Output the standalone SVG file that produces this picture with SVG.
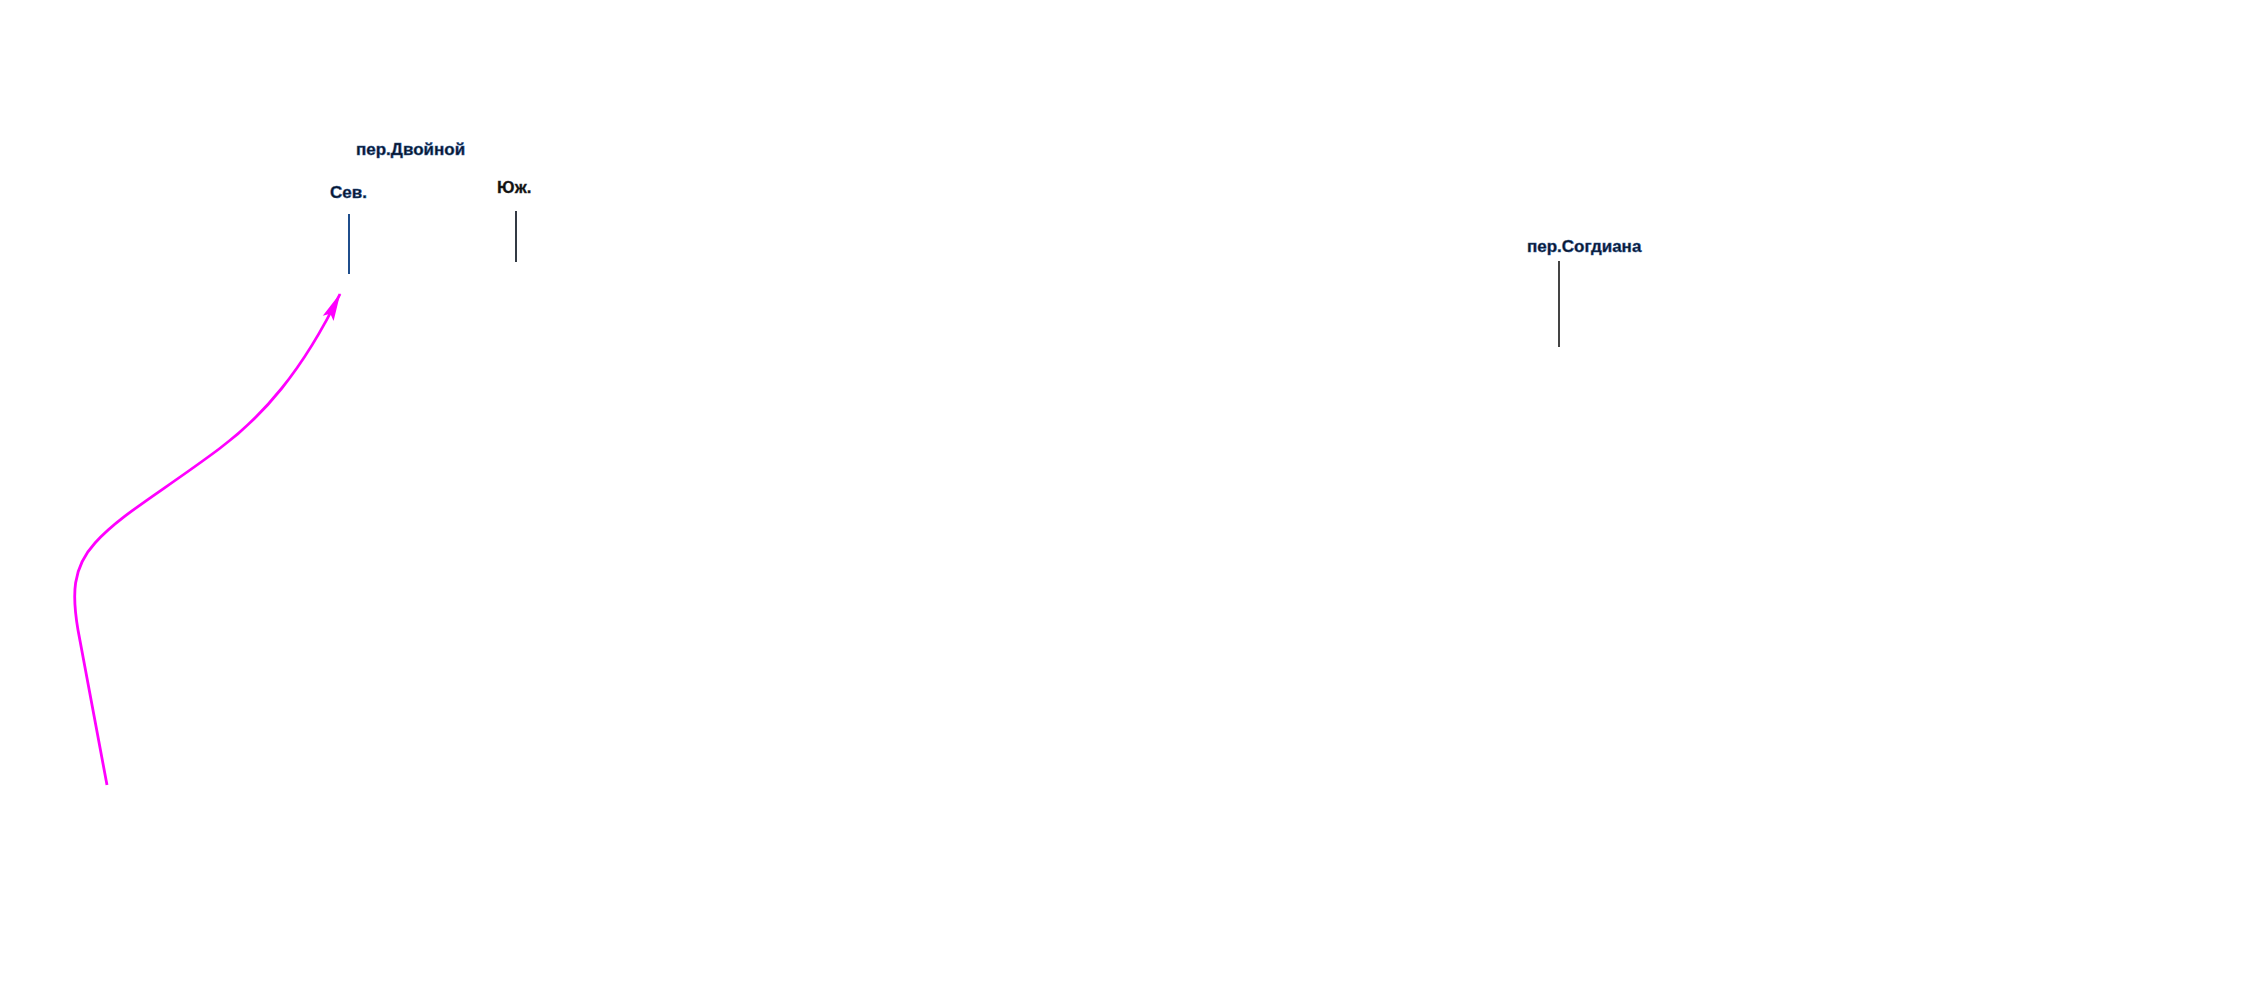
<svg xmlns="http://www.w3.org/2000/svg" width="2252" height="1000" viewBox="0 0 2252 1000">
<style>
.lbl{font-family:"Liberation Sans",Arial,sans-serif;font-weight:bold;font-size:17px;fill:#0a1428;stroke:#2a5a9a;stroke-width:0.5}
.lbl2{font-family:"Liberation Sans",Arial,sans-serif;font-weight:bold;font-size:17px;fill:#111;stroke:#333;stroke-width:0.3}
.tick{stroke-width:2;fill:none}
.conn{stroke:#ff00ff;stroke-width:2.8;fill:none}
</style>
<defs>
<marker id="ah" markerUnits="userSpaceOnUse" markerWidth="28" markerHeight="14" viewBox="0 0 28 14" refX="27" refY="7" orient="auto">
<path d="M0,1 L28,7 L0,13 L5,7 z" fill="#ff00ff"/>
</marker>
</defs>
<rect width="2252" height="1000" fill="#ffffff"/>
<g id="node-dvoynoy">
<text class="lbl" x="356" y="155">пер.Двойной</text>
</g>
<g id="node-sev">
<text class="lbl" x="330" y="198">Сев.</text>
<line class="tick" x1="349" y1="214" x2="349" y2="274" stroke="#1f4e8c"/>
</g>
<g id="node-yuzh">
<text class="lbl2" x="497" y="193">Юж.</text>
<line class="tick" x1="516" y1="211" x2="516" y2="262" stroke="#333a44"/>
</g>
<g id="node-sogdiana">
<text class="lbl" x="1527" y="252">пер.Согдиана</text>
<line class="tick" x1="1559" y1="261" x2="1559" y2="347" stroke="#444"/>
</g>
<g id="connectors">
<path class="conn" d="M107,785 L78,630 C72,595 72,568 95,543 C120,515 160,493 219,449 C262,417 302,372 340,294" marker-end="url(#ah)"/>
</g>
</svg>
